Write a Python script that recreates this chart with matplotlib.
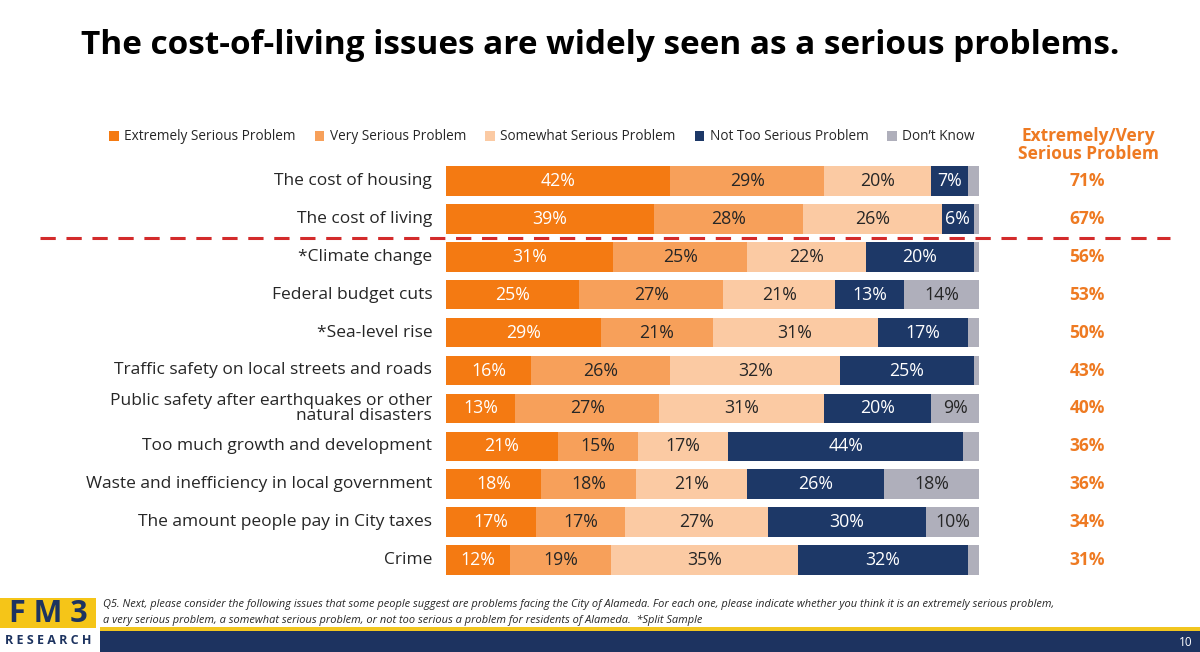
import numpy as np
import matplotlib.pyplot as plt
from matplotlib.patches import Rectangle, Patch

plt.rcParams['font.family'] = ['Open Sans', 'DejaVu Sans']

# Данные
issues = [
    "The cost of housing",
    "The cost of living",
    "*Climate change",
    "Federal budget cuts",
    "*Sea-level rise",
    "Traffic safety on local streets and roads",
    "Public safety after earthquakes or other\nnatural disasters",
    "Too much growth and development",
    "Waste and inefficiency in local government",
    "The amount people pay in City taxes",
    "Crime",
]
extremely = [42, 39, 31, 25, 29, 16, 13, 21, 18, 17, 12]
very = [29, 28, 25, 27, 21, 26, 27, 15, 18, 17, 19]
somewhat = [20, 26, 22, 21, 31, 32, 31, 17, 21, 27, 35]
not_too = [7, 6, 20, 13, 17, 25, 20, 44, 26, 30, 32]
dont_know = [2, 1, 1, 14, 2, 1, 9, 3, 18, 10, 2]
ext_very = [71, 67, 56, 53, 50, 43, 40, 36, 36, 34, 31]

series_names = ["Extremely Serious Problem", "Very Serious Problem",
                "Somewhat Serious Problem", "Not Too Serious Problem", "Don\u2019t Know"]
colors = ["#F47A12", "#F7A05A", "#FBCAA3", "#1D3867", "#AFAFBB"]
text_colors = ["white", "#262626", "#262626", "white", "#262626"]

fig = plt.figure(figsize=(12, 6.52), dpi=100)
ax = fig.add_axes([446 / 1200, 1 - 579 / 652, 533 / 1200, 417 / 652])

data = np.array([extremely, very, somewhat, not_too, dont_know], dtype=float)
totals = data.sum(axis=0)
shares = data / totals * 100
y = np.arange(len(issues))

left = np.zeros(len(issues))
for k in range(5):
    ax.barh(y, shares[k], left=left, height=0.78, color=colors[k], edgecolor='none')
    for i in range(len(issues)):
        val = data[k, i]
        if val >= 5:
            ax.text(left[i] + shares[k, i] / 2, y[i], f"{int(val)}%", ha='center', va='center',
                    fontsize=12.8, color=text_colors[k])
    left += shares[k]

ax.set_xlim(0, 100)
ax.set_ylim(len(issues) - 0.5, -0.5)
ax.axis('off')

# подписи слева
for i, name in enumerate(issues):
    ax.text(-2.6, y[i], name, ha='right', va='center', fontsize=12.5, color='#262626',
            linespacing=0.95)

# правая колонка
for i, v in enumerate(ext_very):
    fig.text(1087 / 1200, 1 - (181 + i * 37.9) / 652, f"{v}%", ha='center', va='center',
             fontsize=12.5, fontweight='bold', color='#EE7A22')
fig.text(1088 / 1200, 1 - 145 / 652, "Extremely/Very\nSerious Problem", ha='center', va='center',
         fontsize=12.5, fontweight='bold', color='#EE7A22', linespacing=0.95)

# заголовок
fig.text(0.5, 1 - 45 / 652, "The cost-of-living issues are widely seen as a serious problems.",
         ha='center', va='center', fontsize=24, fontweight='bold', color='black')

# легенда
handles = [Patch(facecolor=c, edgecolor='none') for c in colors]
fig.legend(handles, series_names, loc='center', bbox_to_anchor=(542 / 1200, 1 - 137 / 652),
           ncol=5, frameon=False, fontsize=9.8, handlelength=0.7, handleheight=0.7,
           handletextpad=0.4, columnspacing=1.4, labelcolor='#262626')

# красная пунктирная линия
fig.add_artist(plt.Line2D([40 / 1200, 1170 / 1200], [1 - 238 / 652, 1 - 238 / 652],
                          transform=fig.transFigure, color='#D32B2B', lw=2.2,
                          dashes=(5, 3.5)))

# нижний колонтитул
fig.add_artist(Rectangle((100 / 1200, 0), 1100 / 1200, 21 / 652, transform=fig.transFigure,
                         color='#1D3360', lw=0))
fig.add_artist(Rectangle((100 / 1200, 21 / 652), 1100 / 1200, 4 / 652, transform=fig.transFigure,
                         color='#F2C61F', lw=0))
fig.add_artist(Rectangle((0, 24 / 652), 96 / 1200, 30 / 652, transform=fig.transFigure,
                         color='#F5C518', lw=0))
fig.text(48 / 1200, 1 - 614 / 652, "F M 3", ha='center', va='center', fontsize=22,
         fontweight='bold', color='#1D3360')
fig.text(48 / 1200, 1 - 641 / 652, "R E S E A R C H", ha='center', va='center', fontsize=9,
         fontweight='bold', color='#1D3360')
fig.text(1186 / 1200, 1 - 642 / 652, "10", ha='center', va='center', fontsize=8.5, color='white')
fig.text(103 / 1200, 1 - 605 / 652,
         "Q5. Next, please consider the following issues that some people suggest are problems facing the City of Alameda. "
         "For each one, please indicate whether you think it is an extremely serious problem,",
         ha='left', va='center', fontsize=7.9, style='italic', color='#262626')
fig.text(103 / 1200, 1 - 620 / 652,
         "a very serious problem, a somewhat serious problem, or not too serious a problem for residents of Alameda.  *Split Sample",
         ha='left', va='center', fontsize=7.9, style='italic', color='#262626')

fig.savefig("out.png", dpi=100)
